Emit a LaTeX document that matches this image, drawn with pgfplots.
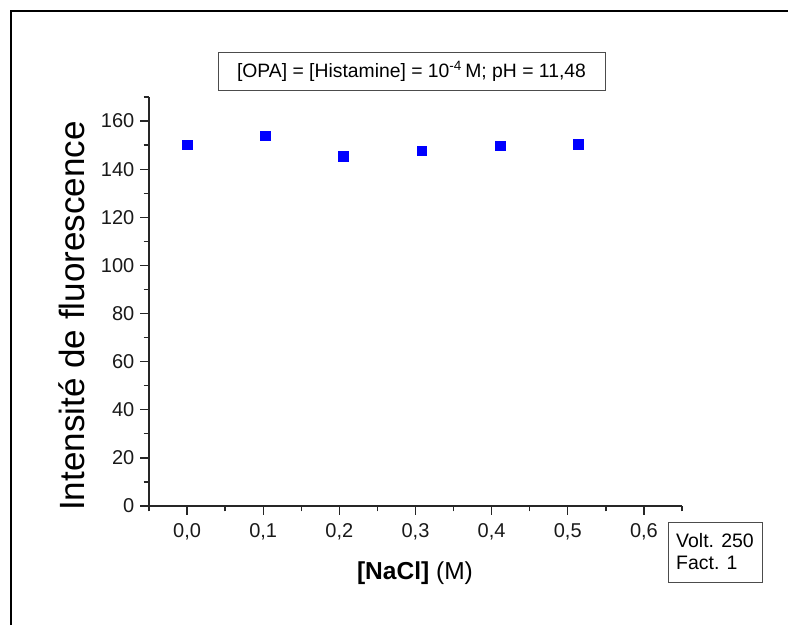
\documentclass[border=0pt]{standalone}
\usepackage{pgfplots}
\pgfplotsset{compat=1.18}
\usepackage{fontspec}
\setmainfont{Liberation Sans}
\begin{document}
\begin{tikzpicture}
\begin{axis}[
  scale only axis,
  width=399.75pt, height=306.75pt,
  xmin=-0.05, xmax=0.65, ymin=0, ymax=170,
  axis x line*=bottom, axis y line*=left,
  axis line style={line width=1.4pt, black!85},
  xtick={0,0.1,...,0.61}, ytick={0,20,...,160},
  minor xtick={-0.05,0.05,0.15,0.25,0.35,0.45,0.55,0.65},
  minor ytick={10,30,...,170},
  tick align=outside,
  major tick length=6.5pt, minor tick length=4pt,
  tick style={line width=1pt, black!85},
  /pgf/number format/assume math mode=true,
  xticklabel style={yshift=-3pt, /pgf/number format/.cd, use comma, fixed, fixed zerofill, precision=1},
  yticklabel style={xshift=-1pt},
  ticklabel style={font=\fontsize{15}{18}\selectfont, black!90},
  xlabel={\textbf{[NaCl]} (M)},
  ylabel={Intensité de fluorescence},
  xlabel style={font=\fontsize{18.4}{22}\selectfont, at={(axis description cs:0.499,-0.164)}, anchor=center},
  ylabel style={font=\fontsize{26.3}{30}\selectfont, at={(axis description cs:-0.1445,0.4645)}, anchor=center},
  clip=false,
]
\addplot[only marks, mark=square*, mark size=3.6pt, color=blue, mark options={fill=blue, draw=blue}] coordinates {
  (0.0, 150.2)
  (0.1027, 153.9)
  (0.2054, 145.3)
  (0.308, 147.7)
  (0.411, 149.8)
  (0.514, 150.3)
};
\end{axis}
\begin{scope}[x=0.75pt, y=0.75pt]
  \useasboundingbox (-149,-119) rectangle (640,506);
  \draw[line width=1.6pt] (-138,-119) -- (-138,495) -- (639,495);
  \node[draw=black!70, line width=0.6pt, minimum width=387*0.75pt, minimum height=38*0.75pt, inner sep=0pt, font=\fontsize{14.5}{17}\selectfont] at (262.5,435)
    {[OPA] = [Histamine] = 10\textsuperscript{-4}\,M; pH = 11,48};
  \node[draw=black!70, line width=0.6pt, minimum width=94*0.75pt, minimum height=60*0.75pt, inner sep=0pt, align=left, font=\fontsize{14.6}{16.5}\selectfont] at (566,-46)
    {Volt. 250\\Fact. 1};
\end{scope}
\end{tikzpicture}
\end{document}
